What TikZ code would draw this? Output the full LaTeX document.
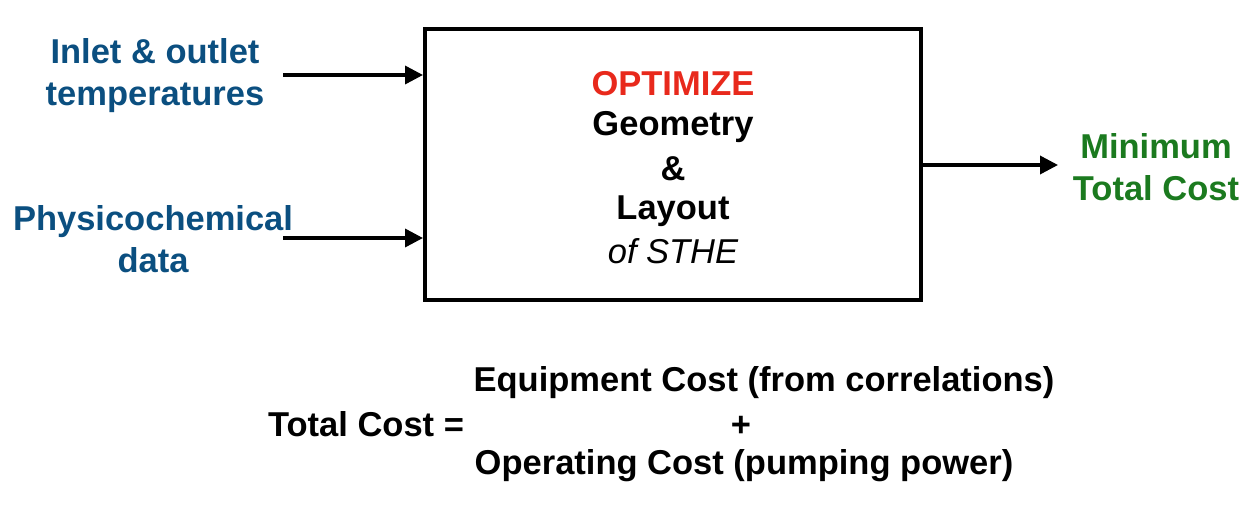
\documentclass[tikz,border=0pt]{standalone}
\usepackage{fontspec}
\setmainfont{Liberation Sans}
\usetikzlibrary{arrows.meta}
\definecolor{inblue}{HTML}{0B4F80}
\definecolor{optred}{HTML}{E8291C}
\definecolor{outgreen}{HTML}{1B7A1F}
\tikzset{
  lbl/.style={font=\fontsize{34.5}{42}\selectfont\bfseries, align=center, inner sep=0pt},
  conn/.style={line width=3.5pt, -{Triangle[length=18pt,width=18pt]}},
}
\begin{document}
\begin{tikzpicture}[x=1pt,y=-1pt]
\useasboundingbox (0,0) rectangle (1252,516);
\node[draw, line width=4pt, minimum width=496pt, minimum height=271pt, inner sep=0pt] (box) at (673,164.5) {};
\node[lbl, text=inblue] (in1) at (155,76) {Inlet \& outlet\\temperatures};
\node[lbl, text=inblue] (in2) at (153,239) {Physicochemical\\data};
\node[lbl, text=outgreen] (out) at (1156,167) {Minimum\\Total Cost};
\node[lbl] (opt) at (673,84) {\textcolor{optred}{OPTIMIZE}};
\node[lbl] (geo) at (673,127) {Geometry};
\node[lbl] (amp) at (673,169) {\&};
\node[lbl] (lay) at (673,211) {Layout};
\node[lbl, font=\fontsize{34.5}{42}\selectfont\itshape] (sthe) at (673,251) {of STHE};
\coordinate (a1s) at (283,75);
\coordinate (a2s) at (283,238);
\coordinate (a3e) at (1058,165);
\draw[conn] (a1s) -- (a1s -| box.west);
\draw[conn] (a2s) -- (a2s -| box.west);
\draw[conn] (a3e -| box.east) -- (a3e);
\node[lbl] (tc) at (366,424) {Total Cost =};
\node[lbl] (eq) at (764,383) {Equipment Cost (from correlations)};
\node[lbl] (plus) at (741,426) {+};
\node[lbl] (op) at (744,466) {Operating Cost (pumping power)};
\end{tikzpicture}
\end{document}
